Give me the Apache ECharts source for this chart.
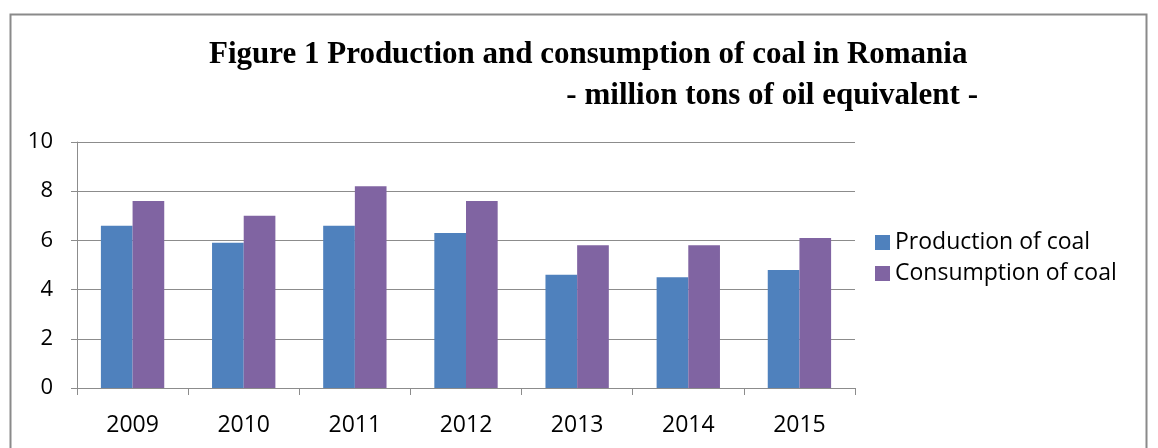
<!DOCTYPE html>
<html>
<head>
<meta charset="utf-8">
<script src="https://cdn.jsdelivr.net/npm/echarts@6/dist/echarts.min.js"></script>
<style>
html,body{margin:0;padding:0;background:#fff;}
#chart{width:1158px;height:448px;}
</style>
</head>
<body>
<div id="chart"></div>
<script>
const categories = ['2009','2010','2011','2012','2013','2014','2015'];
const production = [6.6, 5.9, 6.6, 6.3, 4.6, 4.5, 4.8];
const consumption = [7.6, 7.0, 8.2, 7.6, 5.8, 5.8, 6.1];
const seriesNames = ['Production of coal', 'Consumption of coal'];
const titleLine1 = 'Figure 1 Production and consumption of coal in Romania';
const titleLine2 = '- million tons of oil equivalent -';

const chart = echarts.init(document.getElementById('chart'), null, {renderer:'canvas'});
const axisGray = '#8c8c8c';
const titleStyle = {fontFamily: 'Liberation Serif', fontWeight: 'bold', fontSize: 31, lineHeight: 31, color: '#000'};
chart.setOption({
  animation: false,
  backgroundColor: '#fff',
  graphic: [{
    type: 'rect',
    shape: {x: 10.5, y: 14.5, width: 1136, height: 460},
    style: {fill: 'none', stroke: '#8a8a8a', lineWidth: 2}
  }],
  title: [
    {text: titleLine1, left: 209, top: 39, padding: 0, textStyle: titleStyle},
    {text: titleLine2, right: 180, top: 80, padding: 0, textStyle: titleStyle}
  ],
  legend: {
    orient: 'vertical', left: 875, top: 231, padding: 0,
    itemWidth: 15, itemHeight: 15, itemGap: 8,
    icon: 'rect',
    textStyle: {fontFamily: 'Open Sans', fontSize: 23, lineHeight: 20, color: '#000'},
    data: seriesNames
  },
  grid: {left: 77, right: 303, top: 142, bottom: 60, containLabel: false},
  xAxis: {
    type: 'category', data: categories,
    axisLine: {lineStyle: {color: axisGray, width: 1}},
    axisTick: {show: true, alignWithLabel: false, length: 7, lineStyle: {color: axisGray}},
    axisLabel: {fontFamily: 'Open Sans', fontSize: 23, color: '#000', margin: 26}
  },
  yAxis: {
    type: 'value', min: 0, max: 10, interval: 2,
    axisLine: {show: true, lineStyle: {color: axisGray, width: 1}},
    axisTick: {show: true, length: 6, lineStyle: {color: axisGray}},
    splitLine: {lineStyle: {color: axisGray, width: 1}},
    axisLabel: {fontFamily: 'Open Sans', fontSize: 22, color: '#000', margin: 24}
  },
  series: [
    {name: seriesNames[0], type: 'bar', data: production, barGap: '0%', barCategoryGap: '43%',
     itemStyle: {color: '#4f81bd'}},
    {name: seriesNames[1], type: 'bar', data: consumption,
     itemStyle: {color: '#8064a2'}}
  ]
});
</script>
</body>
</html>
